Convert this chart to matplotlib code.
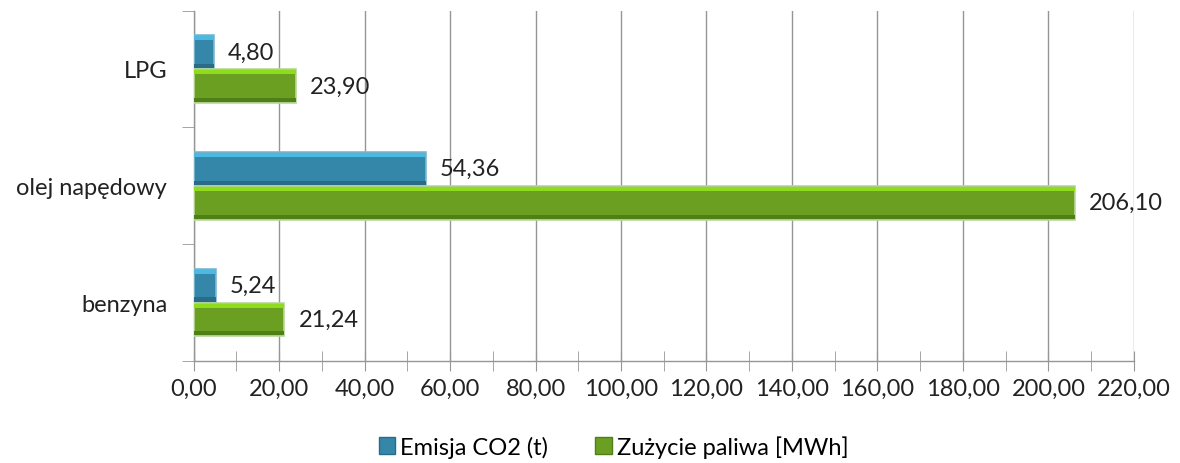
import matplotlib.pyplot as plt
import numpy as np
from matplotlib.ticker import MultipleLocator, FuncFormatter
from matplotlib.patches import Patch

plt.rcParams['font.family'] = ['Lato', 'DejaVu Sans']

categories = ['benzyna', 'olej napędowy', 'LPG']
emisja = [5.24, 54.36, 4.80]
zuzycie = [21.24, 206.10, 23.90]
series_names = ['Emisja CO2 (t)', 'Zużycie paliwa [MWh]']

fig = plt.figure(figsize=(11.8, 4.64), dpi=100)
ax = fig.add_axes([0.164, 0.22, 0.797, 0.755])

y = np.arange(len(categories))
h = 0.29

# blue = CO2 on top, green below; (face, top highlight, bottom shade, outline)
styles = [
    (emisja, y + h / 2, '#3587A9', '#4BB9E2', '#2A6B87', '#7FB8D0'),
    (zuzycie, y - h / 2, '#6A9F22', '#8EDC1C', '#4F7F17', '#B8D89A'),
]
for vals, pos, face, light, dark, edge in styles:
    ax.barh(pos, vals, height=h, color=face, edgecolor=edge, linewidth=1.2, zorder=3)
    # simple bevel: light strip on top, darker strip at the bottom
    ax.barh(pos + h * 0.41, vals, height=h * 0.12, color=light, linewidth=0, zorder=4)
    ax.barh(pos - h * 0.41, vals, height=h * 0.12, color=dark, linewidth=0, zorder=4)
    for v, p in zip(vals, pos):
        ax.text(v + 3.3, p, f'{v:.2f}'.replace('.', ','), va='center', ha='left',
                fontsize=17, color='#222222', zorder=5)

ax.set_xlim(0, 220)
ax.set_ylim(-0.5, 2.5)
ax.xaxis.set_major_locator(MultipleLocator(20))
ax.xaxis.set_minor_locator(MultipleLocator(10))
ax.xaxis.set_major_formatter(FuncFormatter(lambda v, _: f'{v:.2f}'.replace('.', ',')))
ax.set_yticks(y)
ax.set_yticklabels(categories)
ax.set_yticks(np.arange(-0.5, 3.0, 1.0), minor=True)
ax.grid(axis='x', which='major', color='#969696', linewidth=1.0, zorder=0)

for s in ['top', 'right']:
    ax.spines[s].set_visible(False)
for s in ['left', 'bottom']:
    ax.spines[s].set_color('#969696')
    ax.spines[s].set_linewidth(1.0)

ax.tick_params(axis='x', which='major', direction='inout', length=14, color='#969696',
               labelsize=17, pad=5, labelcolor='#222222')
ax.tick_params(axis='x', which='minor', direction='inout', length=14, color='#969696')
ax.tick_params(axis='y', which='major', length=0, labelsize=17, pad=19, labelcolor='#222222')
ax.tick_params(axis='y', which='minor', direction='out', length=9, color='#969696')

handles = [Patch(facecolor='#3587A9', edgecolor='#2A6B87'),
           Patch(facecolor='#6A9F22', edgecolor='#4F7F17')]
fig.legend(handles, series_names, loc='lower center', ncol=2, frameon=False,
           fontsize=17, bbox_to_anchor=(0.52, -0.035), handlelength=0.7, handleheight=0.7,
           handletextpad=0.2, columnspacing=2.0)

fig.savefig('out.png', dpi=100)
